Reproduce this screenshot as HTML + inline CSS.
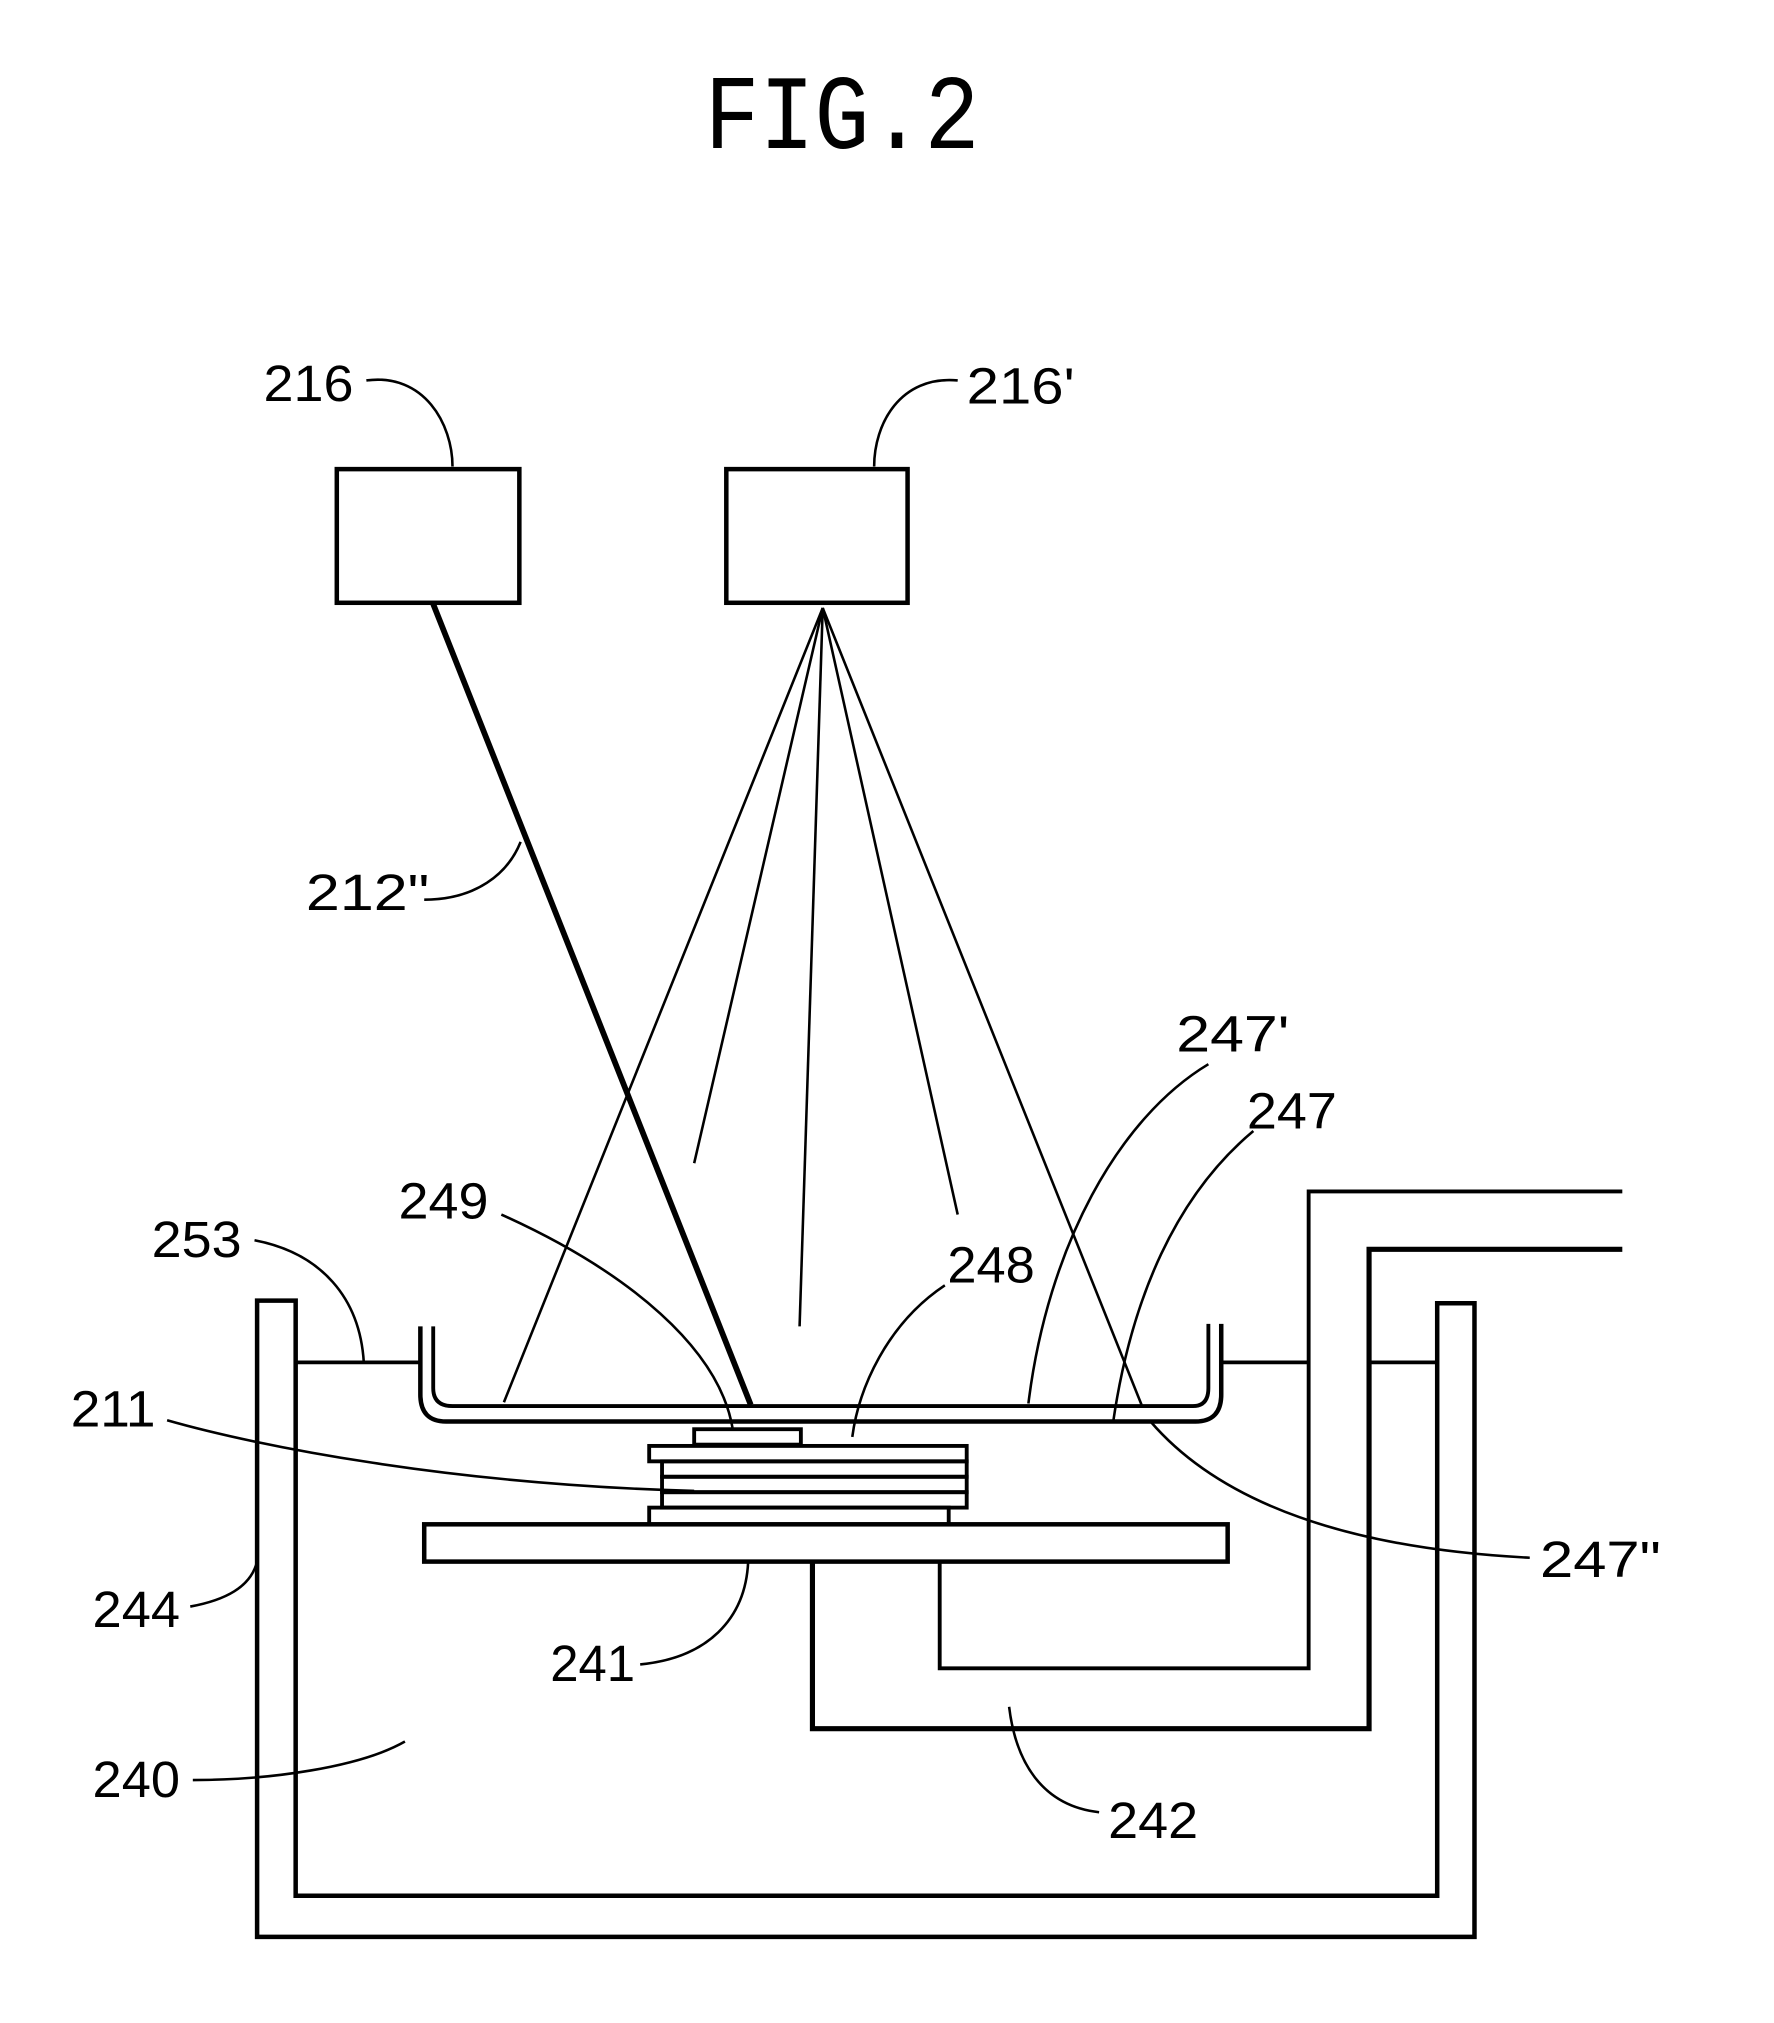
<!DOCTYPE html>
<html><head><style>html,body{margin:0;padding:0;background:#fff}svg{display:block}</style></head>
<body>
<svg width="1774" height="2023" viewBox="0 0 1380 1574" preserveAspectRatio="none" xmlns="http://www.w3.org/2000/svg">
<g font-family="Liberation Sans, sans-serif" font-size="40" fill="#000">
<text x="548" y="115" font-family="Liberation Mono, monospace" font-size="82" textLength="214" lengthAdjust="spacingAndGlyphs">FIG.2</text>
<text x="205" y="312" textLength="70" lengthAdjust="spacingAndGlyphs">216</text>
<text x="752" y="314" textLength="84" lengthAdjust="spacingAndGlyphs">216'</text>
<text x="238" y="708" textLength="96" lengthAdjust="spacingAndGlyphs">212"</text>
<text x="915" y="818" textLength="88" lengthAdjust="spacingAndGlyphs">247'</text>
<text x="970" y="878" textLength="70" lengthAdjust="spacingAndGlyphs">247</text>
<text x="310" y="948" textLength="70" lengthAdjust="spacingAndGlyphs">249</text>
<text x="118" y="978" textLength="70" lengthAdjust="spacingAndGlyphs">253</text>
<text x="737" y="998" textLength="68" lengthAdjust="spacingAndGlyphs">248</text>
<text x="55" y="1110" textLength="66" lengthAdjust="spacingAndGlyphs">211</text>
<text x="1198" y="1227" textLength="94" lengthAdjust="spacingAndGlyphs">247"</text>
<text x="72" y="1266" textLength="68" lengthAdjust="spacingAndGlyphs">244</text>
<text x="428" y="1308" textLength="66" lengthAdjust="spacingAndGlyphs">241</text>
<text x="72" y="1398" textLength="68" lengthAdjust="spacingAndGlyphs">240</text>
<text x="862" y="1430" textLength="70" lengthAdjust="spacingAndGlyphs">242</text>
</g>
<g fill="none" stroke="#000" stroke-linejoin="miter">
<!-- boxes -->
<rect x="262" y="365" width="142" height="104" stroke-width="3.5"/>
<rect x="565" y="365" width="141" height="104" stroke-width="3.5"/>
<!-- thick beam -->
<line x1="337" y1="470" x2="584" y2="1093" stroke-width="4.5"/>
<!-- fan -->
<g stroke-width="2">
<line x1="640" y1="473" x2="392" y2="1091"/>
<line x1="640" y1="473" x2="540" y2="905"/>
<line x1="640" y1="473" x2="622" y2="1032"/>
<line x1="640" y1="473" x2="745" y2="945"/>
<line x1="640" y1="473" x2="888" y2="1093"/>
</g>
<!-- tray -->
<path d="M327 1032 V1085 Q327 1106 347 1106 H930 Q950 1106 950 1085 V1030" stroke-width="3.5"/>
<path d="M337 1032 V1080 Q337 1094 352 1094 H928 Q940 1094 940 1080 V1030" stroke-width="3"/>
<!-- container -->
<path d="M200 1012 V1507 H1147 V1014 H1118 V1475 H230 V1012 Z" stroke-width="3.5"/>
<!-- liquid surface -->
<g stroke-width="3">
<line x1="230" y1="1060" x2="327" y2="1060"/>
<line x1="950" y1="1060" x2="1018" y2="1060"/>
<line x1="1065" y1="1060" x2="1118" y2="1060"/>
</g>
<!-- pipes -->
<path d="M1262 927 H1018 V1298 H731 V1215" stroke-width="3"/>
<path d="M1262 972 H1065 V1345 H632 V1215" stroke-width="4"/>
<!-- platform -->
<rect x="330" y="1186" width="625" height="29" stroke-width="3.5"/>
<!-- stack -->
<g stroke-width="3">
<rect x="540" y="1112" width="83" height="12"/>
<rect x="505" y="1125" width="247" height="12"/>
<rect x="515" y="1137" width="237" height="12"/>
<rect x="515" y="1149" width="237" height="12"/>
<rect x="515" y="1161" width="237" height="12"/>
<rect x="505" y="1173" width="233" height="13"/>
</g>
<!-- leaders -->
<g stroke-width="2">
<path d="M285 296 C330 290 352 330 352 363"/>
<path d="M745 296 C700 292 680 330 680 363"/>
<path d="M330 700 C370 700 395 680 405 655"/>
<path d="M940 828 C870 870 815 970 800 1092"/>
<path d="M975 880 C915 930 880 1010 866 1106"/>
<path d="M390 945 C490 990 560 1050 570 1112"/>
<path d="M198 965 C250 975 280 1010 283 1060"/>
<path d="M735 1000 C690 1030 668 1080 663 1118"/>
<path d="M130 1105 C200 1125 350 1155 540 1160"/>
<path d="M1190 1212 C1050 1205 950 1170 895 1106"/>
<path d="M148 1250 C175 1245 195 1235 200 1215"/>
<path d="M498 1295 C550 1290 580 1260 582 1215"/>
<path d="M150 1385 C210 1385 280 1375 315 1355"/>
<path d="M855 1410 C810 1405 790 1370 785 1328"/>
</g>
</g>
</svg>
</body></html>
